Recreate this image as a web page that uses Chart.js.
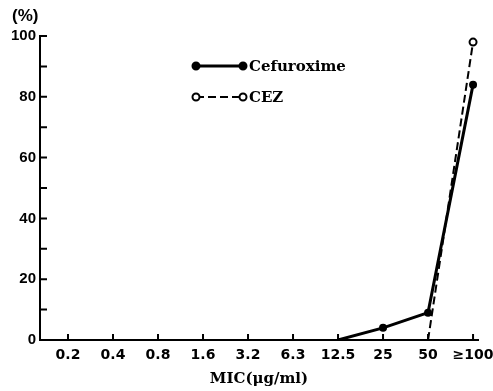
<!DOCTYPE html>
<html>
<head>
<meta charset="utf-8">
<script src="https://cdn.jsdelivr.net/npm/chart.js@4/dist/chart.umd.min.js"></script>
<style>
  html, body { margin: 0; padding: 0; background: #fff; }
  #wrap { width: 493px; height: 391px; }
</style>
</head>
<body>
<div id="wrap"><canvas id="c"></canvas></div>
<script>
// MIC categories along the x axis
const micLabels = ['0.2', '0.4', '0.8', '1.6', '3.2', '6.3', '12.5', '25', '50', '\u2265100'];
// cumulative % (index into micLabels, value)
const cefuroximeX = [6, 7, 8, 9];
const cefuroximeY = [0, 4, 9, 84];
const cezX = [8, 9];
const cezY = [0, 98];
const yTicks = [0, 20, 40, 60, 80, 100];
const yMinorTicks = [10, 30, 50, 70, 90];

const toPoints = (xs, ys) => xs.map((x, i) => ({ x: x, y: ys[i] }));

//draws inward tick marks and the little legend box
const decor = {
  id: 'decor',
  afterDraw(chart) {
    const ctx = chart.ctx;
    const xs = chart.scales.x, ys = chart.scales.y;
    const left = chart.chartArea.left, bottom = chart.chartArea.bottom;
    ctx.save();
    ctx.strokeStyle = '#000';
    ctx.lineWidth = 2;
    ctx.beginPath();
    yTicks.concat(yMinorTicks).forEach(v => {
      const py = ys.getPixelForValue(v);
      ctx.moveTo(left, py);
      ctx.lineTo(left + 7, py);
    });
    micLabels.forEach((l, i) => {
      const px = xs.getPixelForValue(i);
      ctx.moveTo(px, bottom);
      ctx.lineTo(px, bottom - 6);
    });
    ctx.stroke();

    // legend
    const items = [
      { y: 66, ds: chart.data.datasets[0] },
      { y: 97, ds: chart.data.datasets[1] }
    ];
    items.forEach(it => {
      const ds = it.ds;
      ctx.beginPath();
      ctx.setLineDash(ds.borderDash || []);
      ctx.lineWidth = ds.borderWidth;
      ctx.moveTo(196, it.y);
      ctx.lineTo(243, it.y);
      ctx.stroke();
      ctx.setLineDash([]);
      [196, 243].forEach(px => {
        ctx.beginPath();
        ctx.arc(px, it.y, 3.5, 0, Math.PI * 2);
        ctx.fillStyle = ds.legendFill;
        ctx.fill();
        ctx.lineWidth = 2;
        ctx.stroke();
      });
      ctx.fillStyle = '#000';
      ctx.font = 'bold 15px "DejaVu Serif"';
      ctx.textBaseline = 'middle';
      ctx.fillText(ds.label, 249, it.y + 1);
    });

    // (%) unit label
    ctx.font = 'bold 17px "Liberation Sans"';
    ctx.textAlign = 'left';
    ctx.fillText('(%)', 12, 16);
    ctx.restore();
  }
};

new Chart(document.getElementById('c'), {
  type: 'line',
  data: {
    datasets: [{
      label: 'Cefuroxime',
      data: toPoints(cefuroximeX, cefuroximeY),
      borderColor: '#000',
      backgroundColor: '#000',
      borderWidth: 3,
      pointRadius: [1, 4, 4, 4],
      pointBackgroundColor: '#000',
      pointBorderWidth: 0,
      legendFill: '#000'
    }, {
      label: 'CEZ',
      data: toPoints(cezX, cezY),
      borderColor: '#000',
      borderWidth: 2,
      borderDash: [8, 4],
      pointRadius: [0, 3.5],
      pointBackgroundColor: '#fff',
      pointBorderColor: '#000',
      pointBorderWidth: 2,
      legendFill: '#fff'
    }]
  },
  options: {
    responsive: true,
    maintainAspectRatio: false,
    animation: false,
    layout: { padding: { left: 0, right: 15, top: 36, bottom: 0 } },
    plugins: { legend: { display: false }, tooltip: { enabled: false } },
    scales: {
      x: {
        type: 'linear',
        min: -0.622,
        max: 9.11,
        afterBuildTicks: s => { s.ticks = micLabels.map((l, i) => ({ value: i })); },
        afterFit: s => { s.height = 51; s.paddingLeft = 0; s.paddingRight = 0; },
        grid: { display: false, drawTicks: false },
        border: { display: true, color: '#000', width: 2 },
        ticks: {
          callback: v => micLabels[v],
          color: '#000',
          padding: 7,
          maxRotation: 0,
          autoSkip: false,
          font: { family: '"DejaVu Sans"', weight: 'bold', size: 14 }
        },
        title: {
          display: true,
          text: 'MIC(\u03bcg/ml)',
          color: '#000',
          padding: { top: 0, bottom: 3 },
          font: { family: '"DejaVu Serif"', weight: 'bold', size: 15 }
        }
      },
      y: {
        min: 0,
        max: 100,
        afterBuildTicks: s => { s.ticks = yTicks.map(v => ({ value: v })); },
        afterFit: s => { s.width = 40; },
        grid: { display: false, drawTicks: false },
        border: { display: true, color: '#000', width: 2 },
        ticks: {
          color: '#000',
          padding: 4,
          font: { family: '"Liberation Sans"', weight: 'bold', size: 15 }
        }
      }
    }
  },
  plugins: [decor]
});
</script>
</body>
</html>
